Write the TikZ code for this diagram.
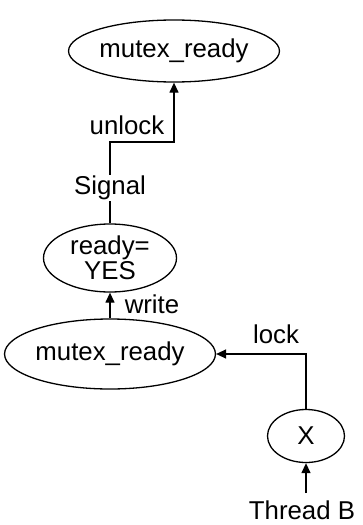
\documentclass[tikz,border=0pt]{standalone}
\usepackage{fontspec}
\setmainfont{Liberation Sans}
\usetikzlibrary{shapes.geometric,arrows.meta}
\begin{document}
\begin{tikzpicture}[x=1pt,y=-1pt,
  every node/.style={font=\fontsize{25.8}{25}\selectfont},
  ell/.style={draw,ellipse,line width=1.3pt,inner sep=0pt},
  arr/.style={line width=1.3pt,-{Triangle[length=10pt,width=9pt]}},
  lbl/.style={inner sep=1pt}]
\useasboundingbox (0,0) rectangle (362,525);
\node[ell,minimum width=196,minimum height=62] (top) at (174,51) {mutex\_ready};
\node[ell,minimum width=133,minimum height=68,align=center] (ready) at (110,258) {ready=\\YES};
\node[ell,minimum width=196,minimum height=70] (bot) at (110,354) {mutex\_ready};
\node[ell,minimum width=77,minimum height=53] (x) at (306,436) {X};
\node[lbl,inner sep=0pt] (tb) at (302,510) {Thread B};
\coordinate (tbtop) at (306,493);
\draw[arr] (ready.north) -- (110,142) -| (top.south);
\node[lbl,fill=white] (sig) at (110,188) {Signal};
\node[lbl] (unl) at (127,125) {unlock};
\draw[arr] (bot.north) -- (ready.south);
\node[lbl] (wr) at (152,304) {write};
\draw[arr] (x.north) |- (bot.east);
\node[lbl] (lk) at (276,334) {lock};
\draw[arr] (tbtop) -- (x.south);
\end{tikzpicture}
\end{document}
